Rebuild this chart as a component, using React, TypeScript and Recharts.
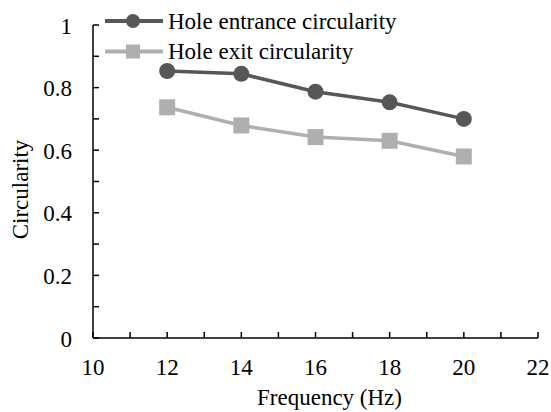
import React from 'react';
import { LineChart, Line, XAxis, YAxis } from 'recharts';

const frequencies = [12, 14, 16, 18, 20];
const entranceCircularity = [0.853, 0.844, 0.787, 0.753, 0.7];
const exitCircularity = [0.737, 0.679, 0.642, 0.63, 0.58];
const xTicks = [10, 11, 12, 13, 14, 15, 16, 17, 18, 19, 20, 21, 22];
const yTicks = [0, 0.1, 0.2, 0.3, 0.4, 0.5, 0.6, 0.7, 0.8, 0.9, 1];
const yLabelTicks = [0, 0.2, 0.4, 0.6, 0.8, 1];
const seriesNames = ['Hole entrance circularity', 'Hole exit circularity'];

const ENTRANCE = '#575757';
const EXIT = '#afafaf';
const FONT = '"Liberation Serif", "Times New Roman", Times, serif';
const FS = 23;

const data = frequencies.map((f, i) => ({
  f,
  entrance: entranceCircularity[i],
  exit: exitCircularity[i],
}));

const XTick = (props: any) => {
  const { x, y, payload } = props;
  const v = payload.value;
  if (v % 2 !== 0) return null;
  return (
    <text x={x} y={y} textAnchor="middle" fontFamily={FONT} fontSize={FS} fill="#000">
      {v}
    </text>
  );
};

const YTick = (props: any) => {
  const { x, y, payload } = props;
  const v = payload.value;
  const isLabel = yLabelTicks.some((t) => Math.abs(t - v) < 1e-9);
  if (!isLabel) return null;
  const label = v === 0 ? '0' : v === 1 ? '1' : v.toFixed(1);
  return (
    <text x={x} y={y + 8.5} textAnchor="end" fontFamily={FONT} fontSize={FS} fill="#000">
      {label}
    </text>
  );
};

const SquareDot = (props: any) => {
  const { cx, cy } = props;
  if (cx == null || cy == null) return null;
  return <rect x={cx - 8} y={cy - 8} width={16} height={16} fill={EXIT} />;
};

const CircleDot = (props: any) => {
  const { cx, cy } = props;
  if (cx == null || cy == null) return null;
  return <circle cx={cx} cy={cy} r={8} fill={ENTRANCE} />;
};

const LegendBox = () => {
  const rows = [
    { name: seriesNames[0], color: ENTRANCE, shape: 'circle', cy: 21 },
    { name: seriesNames[1], color: EXIT, shape: 'square', cy: 51.5 },
  ];
  return (
    <svg
      width={551}
      height={80}
      style={{ position: 'absolute', left: 0, top: 0, pointerEvents: 'none' }}
    >
      {rows.map((r) => (
        <g key={r.name}>
          <line x1={105} y1={r.cy} x2={163} y2={r.cy} stroke={r.color} strokeWidth={4} />
          {r.shape === 'circle' ? (
            <circle cx={133} cy={r.cy} r={7} fill={r.color} />
          ) : (
            <rect x={126} y={r.cy - 7} width={14} height={14} fill={r.color} />
          )}
          <text x={168} y={r.cy + 7.5} fontFamily={FONT} fontSize={FS} fill="#000">
            {r.name}
          </text>
        </g>
      ))}
    </svg>
  );
};

const YLabel = (props: any) => {
  const vb = props.viewBox || {};
  const x = (vb.x ?? 0) + 20;
  const y = (vb.y ?? 0) + (vb.height ?? 0) / 2 + 8;
  return (
    <text
      x={x}
      y={y}
      transform={`rotate(-90, ${x}, ${y})`}
      textAnchor="middle"
      dominantBaseline="central"
      fontFamily={FONT}
      fontSize={FS}
      fill="#000"
    >
      Circularity
    </text>
  );
};

const XLabel = (props: any) => {
  const vb = props.viewBox || {};
  const x = (vb.x ?? 0) + (vb.width ?? 0) / 2 + 14;
  const y = (vb.y ?? 0) + 67;
  return (
    <text x={x} y={y} textAnchor="middle" fontFamily={FONT} fontSize={FS} fill="#000">
      Frequency (Hz)
    </text>
  );
};

export default function App() {
  return (
    <div style={{ position: 'absolute', left: 0, top: 0, width: 551, height: 412, background: '#fff' }}>
      <LineChart
        width={551}
        height={412}
        data={data}
        margin={{ top: 25, right: 13, bottom: 34, left: 0 }}
      >
        <XAxis
          dataKey="f"
          type="number"
          domain={[10, 22]}
          ticks={xTicks}
          interval={0}
          height={40}
          axisLine={{ stroke: '#000', strokeWidth: 1.5 }}
          tickLine={{ stroke: '#000', strokeWidth: 1.5 }}
          tickSize={-6}
          tickMargin={43}
          tick={<XTick />}
          label={<XLabel />}
        />
        <YAxis
          type="number"
          domain={[0, 1]}
          ticks={yTicks}
          interval={0}
          width={93}
          axisLine={{ stroke: '#000', strokeWidth: 1.5 }}
          tickLine={{ stroke: '#000', strokeWidth: 1.5 }}
          tickSize={-6}
          tickMargin={27}
          tick={<YTick />}
          label={<YLabel />}
        />
        <Line
          dataKey="entrance"
          name={seriesNames[0]}
          stroke={ENTRANCE}
          strokeWidth={3.5}
          dot={<CircleDot />}
          activeDot={false}
          isAnimationActive={false}
        />
        <Line
          dataKey="exit"
          name={seriesNames[1]}
          stroke={EXIT}
          strokeWidth={3.5}
          dot={<SquareDot />}
          activeDot={false}
          isAnimationActive={false}
        />
      </LineChart>
      <LegendBox />
    </div>
  );
}
